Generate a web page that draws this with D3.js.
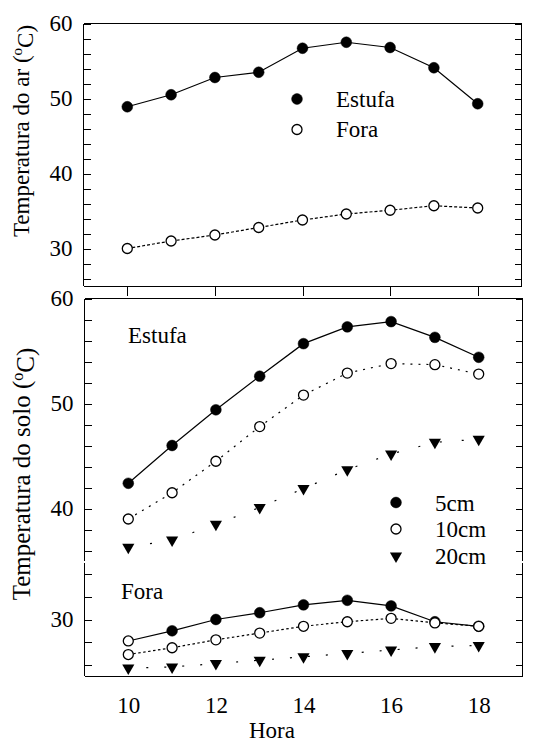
<!DOCTYPE html>
<html>
<head>
<meta charset="utf-8">
<script src="https://cdn.jsdelivr.net/npm/d3@7"></script>
<style>
  body { margin: 0; background: #fff; }
  svg text { font-family: "Liberation Serif", "Times New Roman", Times, "Nimbus Roman", "DejaVu Serif", serif; fill: #000; }
</style>
</head>
<body>
<div id="chart"></div>
<script>
// ---- data ----
const hours        = [10, 11, 12, 13, 14, 15, 16, 17, 18];
const arEstufa     = [48.9, 50.5, 52.8, 53.5, 56.7, 57.5, 56.8, 54.1, 49.3];
const arFora       = [30.0, 31.0, 31.8, 32.8, 33.8, 34.6, 35.1, 35.7, 35.4];
const soloEstufa5  = [42.4, 46.0, 49.4, 52.6, 55.7, 57.3, 57.8, 56.3, 54.4];
const soloEstufa10 = [39.0, 41.5, 44.5, 47.8, 50.8, 52.9, 53.8, 53.7, 52.8];
const soloEstufa20 = [36.3, 37.0, 38.5, 40.1, 41.9, 43.7, 45.2, 46.3, 46.6];
const soloFora5    = [28.1, 29.0, 30.0, 30.6, 31.3, 31.7, 31.2, 29.8, 29.4];
const soloFora10   = [26.9, 27.5, 28.2, 28.8, 29.4, 29.8, 30.1, 29.7, 29.4];
const soloFora20   = [25.7, 25.8, 26.1, 26.4, 26.7, 27.0, 27.3, 27.6, 27.7];
// the 10 h point of the outside 5cm series is drawn hollow in the original
const fora5Hollow  = [10];

const hourTicks      = [10, 12, 14, 16, 18];
const topTickLabels  = [30, 40, 50, 60];
const botTickLabels  = [30, 40, 50, 60];
const legendTop      = ["Estufa", "Fora"];
const legendBottom   = ["5cm", "10cm", "20cm"];

// ---- layout ----
const width = 534, height = 742;
const fontSize = 23;
const tickLen = 7;
const serif = '"Liberation Serif", "Times New Roman", Times, "Nimbus Roman", "DejaVu Serif", serif';

const svg = d3.select("#chart").append("svg")
    .attr("width", width)
    .attr("height", height)
    .attr("font-family", serif);

// top panel scales
const xTop = d3.scaleLinear().domain([9, 19]).range([83.5, 521.5]);
const yTop = d3.scaleLinear().domain([25, 60]).range([286, 23.5]);

// bottom panel scales (y axis is broken at 35)
const xBot = d3.scaleLinear().domain([9, 19]).range([84.5, 522.5]);
const yBotHigh = d3.scaleLinear().domain([35, 60]).range([561, 298.5]);
const yBotLow  = d3.scaleLinear().domain([25, 35]).range([676, 563]);
const yBot = v => v >= 35 ? yBotHigh(v) : yBotLow(v);

function line(g, x1, y1, x2, y2) {
    g.append("line")
        .attr("x1", x1).attr("y1", y1)
        .attr("x2", x2).attr("y2", y2)
        .style("stroke", "#000")
        .style("stroke-width", 1)
        .style("shape-rendering", "crispEdges");
}

// ticks inward on the left and right side, labels only on some of them
function sideAxes(scale, ticks, labels, xl, xr) {
    const left = svg.append("g")
        .attr("transform", "translate(" + xl + ",0)")
        .call(d3.axisLeft(scale)
            .tickValues(ticks)
            .tickSizeInner(-tickLen)
            .tickSizeOuter(0)
            .tickPadding(11)
            .tickFormat(d => labels.includes(d) ? d : ""));
    const right = svg.append("g")
        .attr("transform", "translate(" + xr + ",0)")
        .call(d3.axisRight(scale)
            .tickValues(ticks)
            .tickSizeInner(-tickLen)
            .tickSizeOuter(0)
            .tickFormat(""));
    [left, right].forEach(g => {
        g.attr("font-family", serif).attr("font-size", fontSize);
        g.select(".domain").remove();
        g.selectAll("line").style("stroke", "#000").style("shape-rendering", "crispEdges");
    });
}

function marker(g, type, cx, cy) {
    if (type === "tri") {
        g.append("path")
            .attr("d", d3.symbol(d3.symbolTriangle, 64)())
            .attr("transform", "translate(" + cx + "," + cy + ") rotate(180)")
            .style("fill", "#000");
    } else {
        g.append("circle")
            .attr("cx", cx)
            .attr("cy", cy)
            .attr("r", type === "open" ? 5 : 5.4)
            .style("fill", type === "open" ? "#fff" : "#000")
            .style("stroke", "#000")
            .style("stroke-width", type === "open" ? 1.3 : 0.5);
    }
}

function series(x, y, values, type, dash, hollowAt) {
    const pts = hours.map((h, i) => [h, values[i]]);
    const g = svg.append("g");
    g.append("path")
        .datum(pts)
        .attr("d", d3.line().x(d => x(d[0])).y(d => y(d[1])))
        .style("fill", "none")
        .style("stroke", "#000")
        .style("stroke-width", 1.2)
        .style("stroke-dasharray", dash);
    pts.forEach(d => {
        const t = (hollowAt && hollowAt.includes(d[0])) ? "open" : type;
        marker(g, t, x(d[0]), y(d[1]));
    });
}

function yLabel(cx, cy, main, size) {
    const t = svg.append("text")
        .attr("transform", "translate(" + cx + "," + cy + ") rotate(-90)")
        .attr("text-anchor", "middle")
        .style("font-size", size + "px");
    t.append("tspan").text(main + " (");
    t.append("tspan").attr("dy", "-0.45em").style("font-size", Math.round(size * 0.65) + "px").text("o");
    t.append("tspan").attr("dy", "0.45em").text("C)");
}

function label(x, y, txt, anchor) {
    svg.append("text")
        .attr("x", x)
        .attr("y", y)
        .attr("text-anchor", anchor || "start")
        .style("font-size", fontSize + "px")
        .text(txt);
}

// ================= top panel: air temperature =================
const topL = xTop.range()[0], topR = xTop.range()[1];
const topT = yTop.range()[1], topB = yTop.range()[0];
line(svg, topL, topT, topR, topT);
line(svg, topL, topB, topR, topB);
line(svg, topL, topT, topL, topB);
line(svg, topR, topT, topR, topB);

sideAxes(yTop, d3.range(26, 61, 2), topTickLabels, topL, topR);

// hour ticks below the top panel, pointing out
const topX = svg.append("g")
    .attr("transform", "translate(0," + topB + ")")
    .call(d3.axisBottom(xTop).tickValues(hourTicks).tickSize(10).tickSizeOuter(0).tickFormat(""));
topX.select(".domain").remove();
topX.selectAll("line").style("stroke", "#000").style("shape-rendering", "crispEdges");

series(xTop, yTop, arEstufa, "filled", null);
series(xTop, yTop, arFora, "open", "3,2");

// legend
marker(svg, "filled", 297, 99);
label(336, 107, legendTop[0]);
marker(svg, "open", 297, 129.5);
label(336, 137, legendTop[1]);

yLabel(29, 131, "Temperatura do ar", 23);

// ================= bottom panel: soil temperature =================
const botL = xBot.range()[0], botR = xBot.range()[1];
const botT = yBotHigh.range()[1], botB = yBotLow.range()[0];
const gapTop = yBotHigh.range()[0], gapBot = yBotLow.range()[1];
line(svg, botL, botT, botR, botT);
line(svg, botL, botB, botR, botB);
line(svg, botL, botT, botL, gapTop);
line(svg, botL, gapBot, botL, botB);
line(svg, botR, botT, botR, gapTop);
line(svg, botR, gapBot, botR, botB);

sideAxes(yBotHigh, d3.range(36, 61, 2), botTickLabels, botL, botR);
sideAxes(yBotLow, d3.range(26, 35, 2), botTickLabels, botL, botR);

const botX = svg.append("g")
    .attr("transform", "translate(0," + botB + ")")
    .call(d3.axisBottom(xBot).tickValues(hourTicks).tickSize(0).tickPadding(21));
botX.attr("font-family", serif).attr("font-size", fontSize);
botX.select(".domain").remove();

series(xBot, yBot, soloEstufa5, "filled", null);
series(xBot, yBot, soloEstufa10, "open", "2,6");
series(xBot, yBot, soloEstufa20, "tri", "2,20");
series(xBot, yBot, soloFora5, "filled", null, fora5Hollow);
series(xBot, yBot, soloFora10, "open", "2.5,2.5");
series(xBot, yBot, soloFora20, "tri", "2,16");

label(128, 343, "Estufa");
label(121, 599, "Fora");

// legend
marker(svg, "filled", 396, 502.5);
label(435, 511, legendBottom[0]);
marker(svg, "open", 396, 529);
label(435, 537, legendBottom[1]);
marker(svg, "tri", 396, 556);
label(435, 564, legendBottom[2]);

yLabel(30, 474, "Temperatura do solo", 25);

label(272, 738, "Hora", "middle");
</script>
</body>
</html>
